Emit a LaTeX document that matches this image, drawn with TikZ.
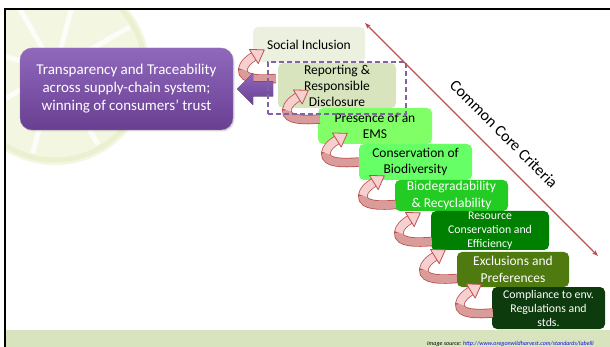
\documentclass[tikz,border=0pt]{standalone}
\usepackage{fontspec}
\setmainfont{Carlito}
\usetikzlibrary{arrows.meta,calc,shadows}
\definecolor{socialc}{HTML}{EBF1DE}
\definecolor{reportc}{HTML}{D7E4BD}
\definecolor{emsc}{HTML}{80FF66}
\definecolor{consc}{HTML}{66FF66}
\definecolor{bioc}{HTML}{22CC22}
\definecolor{resc}{HTML}{008000}
\definecolor{exclc}{HTML}{4F7A10}
\definecolor{compc}{HTML}{0E3B0E}
\definecolor{purptop}{HTML}{9068BC}
\definecolor{purpbot}{HTML}{683F91}
\definecolor{dashc}{HTML}{8064A2}
\definecolor{redline}{HTML}{C0504D}
\definecolor{pinkdark}{HTML}{D99C9B}
\definecolor{pinklight}{HTML}{F6D0CF}
\definecolor{bandc}{HTML}{D7E4BD}
\definecolor{limec}{HTML}{F3F7E2}
\definecolor{limering}{HTML}{EAF1D0}
\definecolor{linkc}{HTML}{1010DD}
\tikzset{
  stepbox/.style={rounded corners=5pt, align=center, inner sep=0pt, text=black,
    font=\fontsize{13.5}{16}\selectfont},
  smallbox/.style={stepbox, font=\fontsize{11.8}{14}\selectfont},
  curvarr/.pic={
    \draw[redline, line width=9.4pt] (0,0) .. controls (-14,1) and (-34,2) .. (-33,-9)
        .. controls (-32,-15) and (-27.1,-18.8) .. (-22,-22);
    \draw[pinkdark, line width=7.8pt] (0,0) .. controls (-14,1) and (-34,2) .. (-33,-9);
    \draw[pinklight, line width=7.8pt] (-33,-9) .. controls (-32,-15) and (-27.1,-18.8) .. (-22,-22);
    \filldraw[fill=pinklight, draw=redline, line width=0.8pt, line join=round]
        (-11.5,-28.6) -- (-17.6,-14.9) -- (-26.4,-29.1) -- cycle;
  }
}
\begin{document}
\begin{tikzpicture}[x=1pt,y=-1pt]
\useasboundingbox (0,0) rectangle (610,347);
\fill[white] (0,0) rectangle (610,347);
% lime slice background
\begin{scope}
  \clip (5,9) rectangle (250,330);
  \fill[limec] (55,70) circle[radius=95];
  \draw[limering, line width=5pt] (55,70) circle[radius=90];
  \foreach \a in {15,60,...,375} \draw[white, line width=5pt, opacity=0.8] (55,70) -- ++(\a:86);
  \fill[white, opacity=0.6] (55,70) circle[radius=14];
\end{scope}
% bottom band
\fill[bandc] (6,330) rectangle (610,347);
% frame
\draw[line width=2pt] (5,347) -- (5,9) -- (610,9);

% step boxes
\node[stepbox, fill=socialc, minimum width=112pt, minimum height=35pt] (soc) at (309,44.5) {Social Inclusion};
\node[stepbox, fill=reportc, minimum width=118pt, minimum height=45pt] (rep) at (337,85.5) {Reporting \&\\Responsible\\Disclosure};
\node[stepbox, fill=emsc, minimum width=114pt, minimum height=36pt] (ems) at (375,126) {Presence of an\\EMS};
\node[stepbox, fill=consc, minimum width=113pt, minimum height=36pt] (cons) at (415.5,162) {Conservation of\\Biodiversity};
\node[stepbox, fill=bioc, text=white, minimum width=113pt, minimum height=31pt, font=\fontsize{13.5}{17}\selectfont] (bio) at (451.5,195.5) {Biodegradability\\\& Recyclability};
\node[smallbox, fill=resc, text=white, minimum width=118pt, minimum height=39pt] (res) at (490,230.5) {Resource\\Conservation and\\Efficiency};
\node[stepbox, fill=exclc, text=white, minimum width=112pt, minimum height=35pt, font=\fontsize{13.5}{17}\selectfont] (excl) at (513,269.5) {Exclusions and\\Preferences};
\node[smallbox, fill=compc, text=white, minimum width=113pt, minimum height=42pt] (comp) at (548.5,308) {Compliance to env.\\Regulations and\\stds.};

% curved arrows between steps
\pic at ($(rep.west)+(-2,-7)$) {curvarr};
\pic at ($(ems.west)+(2,-7)$) {curvarr};
\pic at ($(cons.west)+(0,0)$) {curvarr};
\pic at ($(bio.west)+(1,9)$) {curvarr};
\pic at ($(res.west)+(1,11)$) {curvarr};
\pic at ($(excl.west)+(0,9)$) {curvarr};
\pic at ($(comp.west)+(1,5)$) {curvarr};

% purple box
\node[rounded corners=12pt, top color=purptop, bottom color=purpbot, draw=purpbot!70,
      drop shadow={opacity=0.25, shadow xshift=1.5pt, shadow yshift=-1.5pt},
      minimum width=213pt, minimum height=82pt, align=center, text=white, inner sep=0pt,
      font=\fontsize{15}{18}\selectfont] (pp) at (126.5,89)
  {Transparency and Traceability\\across supply-chain system;\\winning of consumers’ trust};
% purple block arrow
\fill[top color=purptop, bottom color=purpbot]
  ($(pp.east)+(4,0)$) -- ++(16,-16) -- ++(0,8.5) -- ++(20,0) -- ++(0,15) -- ++(-20,0) -- ++(0,8.5) -- cycle;

% dashed highlight
\node[draw=dashc, line width=1.5pt, dash pattern=on 5pt off 3pt, minimum width=138pt, minimum height=52pt, inner sep=0pt] (hl) at (337,88) {};

% common core criteria
\coordinate (cctop) at (365,23);
\coordinate (ccbot) at (598,256);
\draw[redline, line width=1.2pt, {Stealth[length=6pt,width=4.5pt]}-{Stealth[length=6pt,width=4.5pt]}] (cctop) -- (ccbot);
\node[rotate=-45, font=\fontsize{16}{18}\selectfont, inner sep=0pt] (cc) at (504,134) {Common Core Criteria};

% source
\node[anchor=base west, inner sep=0pt, font=\fontsize{6}{7}\selectfont\itshape] (src) at (427,345.5)
  {Image source: \textcolor{linkc}{\underline{http://www.oregonwildharvest.com/standards/labelli}}};
\end{tikzpicture}
\end{document}
